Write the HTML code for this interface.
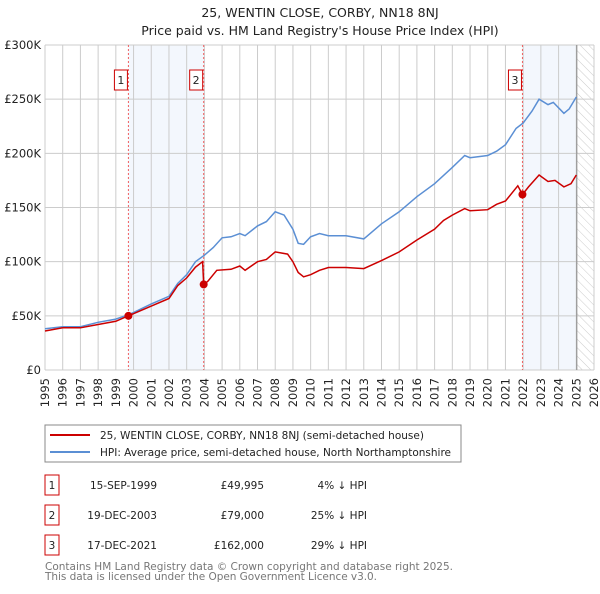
<!DOCTYPE html>
<html><head><meta charset="utf-8"><style>
body{margin:0;background:#fff;font-family:"DejaVu Sans","Liberation Sans",sans-serif;}
svg text{font-family:"DejaVu Sans","Liberation Sans",sans-serif;}
</style></head><body>
<svg id="c" width="600" height="590" xmlns="http://www.w3.org/2000/svg">
<defs><pattern id="hatch" width="6" height="6" patternUnits="userSpaceOnUse" patternTransform="rotate(-45)"><line x1="0" y1="0" x2="0" y2="6" stroke="#ccc" stroke-width="1"/></pattern></defs>
<text x="320" y="17" text-anchor="middle" font-size="12.5" fill="#222">25, WENTIN CLOSE, CORBY, NN18 8NJ</text>
<text x="320" y="35" text-anchor="middle" font-size="12.5" fill="#222">Price paid vs. HM Land Registry's House Price Index (HPI)</text>
<g id="plot"></g>
<rect x="45" y="425" width="416" height="37" fill="#fff" stroke="#888"/>
<line x1="50" y1="435" x2="90" y2="435" stroke="#cc0000" stroke-width="2"/>
<text x="100" y="439" font-size="10.5" fill="#222">25, WENTIN CLOSE, CORBY, NN18 8NJ (semi-detached house)</text>
<line x1="50" y1="452" x2="90" y2="452" stroke="#5b8fd4" stroke-width="2"/>
<text x="100" y="456" font-size="10.5" fill="#222" textLength="351">HPI: Average price, semi-detached house, North Northamptonshire</text>
<g id="tbl" font-size="10.5" fill="#222"></g>
<text x="45" y="570" font-size="10.5" fill="#777" textLength="408">Contains HM Land Registry data © Crown copyright and database right 2025.</text>
<text x="45" y="580" font-size="10.5" fill="#777" textLength="332">This data is licensed under the Open Government Licence v3.0.</text>
</svg>
<script>
const yTicks=[0,50,100,150,200,250,300];
const yTickLabels=["£0","£50K","£100K","£150K","£200K","£250K","£300K"];
const years=[1995,1996,1997,1998,1999,2000,2001,2002,2003,2004,2005,2006,2007,2008,2009,2010,2011,2012,2013,2014,2015,2016,2017,2018,2019,2020,2021,2022,2023,2024,2025,2026];
const hpiT=[1995,1996,1997,1998,1999,1999.7,2000,2001,2002,2002.5,2003,2003.5,2004,2004.5,2005,2005.5,2006,2006.3,2007,2007.5,2008,2008.5,2009,2009.3,2009.6,2010,2010.5,2011,2012,2013,2014,2015,2016,2017,2018,2018.7,2019,2020,2020.5,2021,2021.6,2022,2022.5,2022.9,2023.4,2023.7,2024.3,2024.6,2025];
const hpiV=[38,40,40,44,47,51,53,61,68,80,88,100,106,113,122,123,126,124,133,137,146,143,130,117,116,123,126,124,124,121,135,146,160,172,187,198,196,198,202,208,223,228,239,250,245,247,237,241,252];
const redT=[1995,1996,1997,1998,1999,1999.71,2000,2001,2002,2002.5,2003,2003.5,2003.9,2003.96,2004.2,2004.7,2005.5,2006,2006.3,2007,2007.5,2008,2008.7,2009,2009.3,2009.6,2010,2010.5,2011,2012,2013,2014,2015,2016,2017,2017.5,2018,2018.7,2019,2020,2020.5,2021,2021.7,2021.96,2022.3,2022.9,2023.4,2023.8,2024.3,2024.7,2025];
const redV=[36,39,39,42,45,50,52,59,66,78,85,95,100,79,82,92,93,96,92,100,102,109,107,100,90,86,88,92,94.6,94.6,93.6,101,109,120,130,138,143,149,147,148,153,156,170,162,169,180,174,175,169,172,180];
const saleT=[1999.71,2003.96,2021.96];
const saleV=[49.995,79,162];
const saleLabels=["1","2","3"];
const saleDates=["15-SEP-1999","19-DEC-2003","17-DEC-2021"];
const salePrices=["£49,995","£79,000","£162,000"];
const salePct=["4% ↓ HPI","25% ↓ HPI","29% ↓ HPI"];
const NS="http://www.w3.org/2000/svg";
const X0=45,X1=594,Y0=370,Y1=45;
const x=t=>X0+(t-1995)*(X1-X0)/31;
const y=v=>Y0-v*(Y0-Y1)/300;
const g=document.getElementById('plot');
function mk(tag,at,parent){const e=document.createElementNS(NS,tag);for(const k in at)e.setAttribute(k,at[k]);(parent||g).appendChild(e);return e;}
let e;
e=mk('rect',{x:x(saleT[0]),y:Y1,width:x(saleT[1])-x(saleT[0]),height:Y0-Y1,fill:'#eef3fc',opacity:0.7});


e=mk('rect',{x:x(saleT[2]),y:Y1,width:x(2025.03)-x(saleT[2]),height:Y0-Y1,fill:'#eef3fc',opacity:0.7});


e=mk('rect',{x:x(2025.03),y:Y1,width:X1-x(2025.03),height:Y0-Y1,fill:'url(#hatch)'});


years.forEach(t=>{e=mk('line',{x1:x(t),x2:x(t),y1:Y1,y2:Y0,stroke:'#ccc'});


e=mk('text',{x:x(t)+4,y:Y0+8,'font-size':11.5,fill:'#222','text-anchor':'end',transform:`rotate(-90 ${x(t)+4} ${Y0+8})`});e.textContent=t;

});
yTicks.forEach((v,i)=>{e=mk('line',{x1:X0,x2:X1,y1:y(v),y2:y(v),stroke:'#ccc'});


e=mk('text',{x:X0-4,y:y(v)+4,'font-size':11.5,fill:'#222','text-anchor':'end'});e.textContent=yTickLabels[i];

});
e=mk('line',{x1:x(2025.03),x2:x(2025.03),y1:Y1,y2:Y0,stroke:'#888'});


saleT.forEach((t,i)=>{e=mk('line',{x1:x(t),x2:x(t),y1:Y1,y2:Y0,stroke:'#f06060','stroke-dasharray':'2,2'});


e=mk('rect',{x:x(t)-14,y:70,width:13,height:20,fill:'#fff',stroke:'#cc0000'});


e=mk('text',{x:x(t)-7.5,y:84,'font-size':11,fill:'#222','text-anchor':'middle'});e.textContent=saleLabels[i];

});
const pts=(T,V)=>T.map((t,i)=>x(t).toFixed(1)+','+y(V[i]).toFixed(1)).join(' ');
e=mk('polyline',{points:pts(hpiT,hpiV),fill:'none',stroke:'#5b8fd4','stroke-width':1.5});


e=mk('polyline',{points:pts(redT,redV),fill:'none',stroke:'#cc0000','stroke-width':1.5});


saleT.forEach((t,i)=>{e=mk('circle',{cx:x(t),cy:y(saleV[i]),r:4,fill:'#cc0000'});

});
const tb=document.getElementById('tbl');
saleT.forEach((t,i)=>{const yy=489+i*30;
e=mk('rect',{x:45,y:yy-14,width:14,height:20,fill:'#fff',stroke:'#cc0000'},tb);


e=mk('text',{x:52,y:yy,'text-anchor':'middle'},tb);e.textContent=saleLabels[i];


e=mk('text',{x:157,y:yy,'text-anchor':'end'},tb);e.textContent=saleDates[i];


e=mk('text',{x:264,y:yy,'text-anchor':'end'},tb);e.textContent=salePrices[i];


e=mk('text',{x:367,y:yy,'text-anchor':'end'},tb);e.textContent=salePct[i];

});
</script>
</body></html>
